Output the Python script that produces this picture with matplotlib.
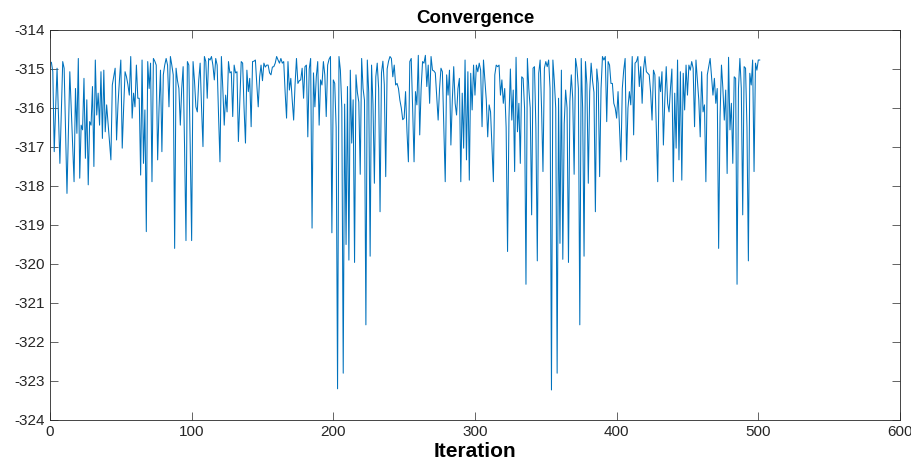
import matplotlib

matplotlib.use("Agg")

import matplotlib.pyplot as plt
import numpy as np

# objective value per iteration, in blocks of ~60 iterations
block_a = [
    -314.83, -315.07, -317.12, -316.0, -314.98, -316.2, -317.42, -316.1, -314.81, -314.98,
    -316.6, -318.19, -316.6, -315.07, -316.0, -317.0, -317.89, -315.5, -316.65, -314.73,
    -317.8, -316.44, -316.56, -315.24, -317.29, -315.79, -317.97, -316.35, -316.44, -315.45,
    -317.5, -314.77, -316.18, -315.62, -316.44, -315.07, -316.78, -315.03, -316.61, -315.92,
    -316.4, -316.9, -317.33, -315.41, -315.2, -314.98, -316.82, -315.92, -315.3, -314.77,
    -317.03, -316.0, -315.07, -315.2, -315.4, -315.67, -314.68, -316.26, -315.62, -315.97,
    -314.9, -315.75,
]
block_b = [
    -315.75, -317.72, -314.77, -317.42, -316.05, -319.17, -314.81, -315.5, -314.85, -317.89,
    -314.73, -314.8, -314.9, -317.33, -316.0, -315.03, -317.12, -315.15, -314.9, -314.73,
    -314.9, -315.97, -314.68, -314.9, -315.15, -319.6, -314.98, -315.3, -315.5, -316.44,
    -315.5, -314.94, -317.0, -319.4, -314.81, -314.9, -317.0, -319.4, -314.81, -315.3,
    -315.97, -316.1, -315.3, -314.85, -316.0, -316.99, -314.68, -314.81, -315.75, -314.73,
    -314.77, -314.68, -314.9, -315.28, -314.73, -314.9, -316.2, -317.38, -314.68, -315.5,
    -316.44, -315.67, -316.1, -314.81,
]
block_c = [
    -315.1, -315.07, -316.22, -314.9, -315.1, -315.07, -316.86, -315.8, -314.81, -314.85,
    -316.0, -316.9, -315.03, -315.58, -315.24, -316.48, -314.81, -314.8, -314.77, -315.4,
    -315.97, -315.2, -314.9, -315.3, -314.85, -314.95, -314.9, -314.9, -315.1, -315.15,
    -314.95, -314.94, -314.85, -314.68, -314.77, -314.85, -314.73, -314.85, -314.81, -315.6,
    -316.26, -314.81, -315.54, -315.24, -315.8, -316.31, -315.4, -314.73, -315.37, -315.3,
    -315.28, -314.98, -315.75, -314.94, -314.9, -316.74, -315.0, -314.73, -319.08, -315.1,
    -315.97, -315.2, -314.81,
]
block_d = [
    -316.44, -315.28, -315.41, -314.81, -315.15, -316.22, -314.9, -314.75, -314.68, -319.2,
    -315.28, -315.37, -316.5, -323.2, -314.68, -315.03, -316.0, -322.8, -315.9, -319.5,
    -315.45, -319.9, -315.03, -316.9, -315.79, -319.96, -315.15, -315.6, -315.85, -317.7,
    -314.73, -315.5, -315.8, -321.56, -314.77, -315.6, -319.8, -314.9, -315.9, -317.93,
    -315.2, -314.85, -315.5, -318.66, -315.1, -314.8, -315.4, -317.76, -315.0, -314.8,
    -314.68, -314.73, -315.2, -314.9, -315.41, -315.37, -315.5, -315.8, -316.0, -316.3,
    -316.26, -315.58, -316.6, -317.38,
]
block_e = [
    -314.81, -314.73, -316.0, -317.38, -315.58, -315.92, -314.65, -316.69, -315.5, -314.81,
    -314.85, -314.65, -315.45, -314.9, -315.88, -314.68, -315.03, -315.05, -315.1, -315.7,
    -316.31, -315.5, -314.98, -315.07, -316.5, -317.89, -315.15, -315.67, -315.03, -316.95,
    -315.8, -314.94, -315.88, -316.18, -315.5, -315.24, -317.89, -315.62, -317.03, -314.77,
    -317.33, -315.07, -317.85, -315.11, -316.05, -314.9, -315.67, -314.9, -315.07, -314.85,
    -315.03, -316.48, -314.77, -315.3, -315.8, -316.74, -315.92, -316.1, -317.0, -317.89,
    -315.15, -314.9, -314.94, -314.9,
]
block_f = [
    -315.67, -315.28, -315.88, -315.5, -316.5, -319.68, -316.26, -315.0, -316.31, -315.54,
    -317.63, -314.7, -316.61, -315.88, -317.42, -315.2, -315.24, -316.0, -320.52, -314.73,
    -315.5, -316.0, -318.74, -314.98, -314.94, -316.5, -319.92, -315.11, -314.77, -316.0,
    -317.63, -314.98, -314.81, -314.94, -314.77, -315.5, -323.23, -314.77, -315.3, -316.0,
    -322.8, -315.75, -319.47, -315.03, -319.88, -316.4, -315.54, -316.0, -319.96, -315.83,
    -315.15, -315.75, -317.7, -314.73, -314.98, -315.5, -321.56, -314.73, -316.0, -319.8,
    -314.81, -315.4, -317.93, -315.58, -314.85, -315.3, -315.6, -318.66, -315.0,
]
block_g = [
    -315.37, -317.76, -315.5, -314.68, -314.77, -314.68, -316.35, -314.81, -314.9, -315.37,
    -315.37, -315.88, -316.0, -316.26, -315.58, -316.5, -317.38, -315.5, -315.03, -314.73,
    -317.33, -316.0, -315.58, -315.92, -314.68, -316.69, -314.85, -314.81, -314.68, -315.45,
    -314.94, -315.88, -315.0, -314.68, -315.07, -315.11, -315.15, -315.6, -316.31, -315.03,
    -315.15, -316.5, -317.89, -315.2, -315.58, -315.07, -316.95, -315.8, -314.94, -315.88,
    -316.1, -315.5, -315.0, -317.89, -315.62, -317.03, -314.77, -317.33, -315.07,
]
block_h = [
    -317.85, -315.11, -316.05, -314.9, -315.67, -314.9, -315.03, -314.81, -314.98, -316.48,
    -314.77, -315.3, -315.8, -316.74, -315.07, -316.1, -315.92, -317.89, -315.15, -314.94,
    -314.73, -315.2, -315.67, -315.24, -315.88, -315.5, -319.6, -316.22, -314.9, -315.5,
    -316.31, -315.54, -317.68, -314.7, -316.56, -315.88, -317.42, -315.2, -315.24, -320.52,
    -315.5, -314.73, -315.5, -318.74, -314.94, -314.98, -316.5, -319.92, -315.11, -315.41,
    -314.77, -317.63, -314.85, -315.03, -314.77, -314.77,
]

values = np.array(block_a + block_b + block_c + block_d + block_e + block_f + block_g + block_h)
iterations = np.arange(1, values.size + 1)

plt.rcParams["font.family"] = ["Liberation Sans", "DejaVu Sans"]
plt.rcParams["axes.unicode_minus"] = False

fig = plt.figure(figsize=(9.12, 4.65), dpi=100)
ax = fig.add_axes([0.0548, 0.0968, 0.932, 0.8387])
ax.plot(iterations, values, color="#0072BD", lw=0.75)

ax.set_xlim(0, 600)
ax.set_ylim(-324, -314)
ax.set_xticks(np.arange(0, 601, 100))
ax.set_yticks(np.arange(-324, -313, 1))
ax.tick_params(direction="in", length=6, width=0.5, colors="#262626",
               labelsize=11, top=True, right=True)
for side in ax.spines.values():
    side.set_linewidth(0.6)
    side.set_color("#262626")

ax.set_title("Convergence", fontsize=13.5, fontweight="bold", pad=5)
ax.set_xlabel("Iteration", fontsize=15, fontweight="bold", labelpad=2)

fig.savefig("out.png", dpi=100)
plt.close(fig)
